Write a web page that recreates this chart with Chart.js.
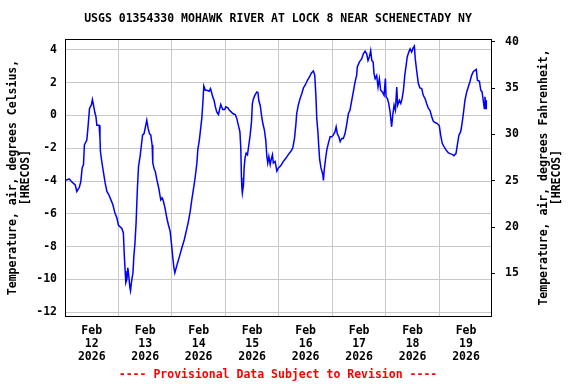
<!DOCTYPE html>
<html>
<head>
<meta charset="utf-8">
<script src="https://cdn.jsdelivr.net/npm/chart.js@4/dist/chart.umd.min.js"></script>
<style>
  html, body { margin: 0; padding: 0; background: #fff; }
</style>
</head>
<body>
<canvas id="myChart" width="576" height="384"></canvas>
<script>
// time in hours since Feb 12 2026 00:00, air temperature in deg C
const hours = [0, 1.9, 3.2, 4.6, 5.3, 6.4, 7.1, 7.7, 8.3, 8.7, 9.8, 10.4, 11.0, 11.8, 12.3, 12.8, 13.4, 13.9, 14.3, 15.3,
  15.7, 15.9, 16.6, 17.3, 18.0, 18.8, 19.7, 20.6, 21.5, 22.4, 23.3, 24.0, 25.5, 26.2, 26.6, 27.0, 27.3, 27.8, 28.2, 28.7,
  29.1, 29.4, 29.8, 30.5, 30.9, 31.4, 31.9, 32.5, 33.0, 33.7, 34.3, 34.8, 35.5, 36.1, 36.7, 37.3, 37.9, 38.5, 39.1, 39.4,
  40.1, 40.5, 41.2, 42.1, 42.7, 43.0, 43.7, 44.2, 44.9, 45.7, 46.4, 47.2, 47.9, 48.4, 48.9, 49.3, 49.9, 50.5, 51.4, 52.4,
  53.5, 54.4, 55.4, 56.2, 56.9, 57.6, 58.4, 59.2, 59.6, 60.3, 60.8, 61.4, 61.9, 62.3, 63.0, 63.7, 64.7, 65.3, 65.9, 66.3,
  66.9, 67.5, 68.1, 68.9, 69.3, 69.9, 70.8, 71.7, 72.2, 73.1, 73.8, 74.6, 75.3, 76.4, 77.1, 77.8, 78.5, 78.9, 79.2, 79.4,
  79.6, 80.1, 80.4, 80.8, 81.3, 81.9, 82.5, 83.1, 83.7, 84.1, 84.6, 85.2, 86.1, 86.6, 87.0, 87.6, 88.3, 88.8, 89.5, 90.1,
  90.6, 91.0, 91.5, 92.1, 92.5, 93.1, 93.5, 94.3, 95.1, 95.8, 96.9, 98.0, 99.2, 100.3, 101.3, 102.2, 103.0, 103.6, 104.0, 104.7,
  105.5, 106.3, 107.0, 107.9, 108.8, 109.7, 110.6, 111.5, 112.1, 112.6, 113.0, 113.5, 113.9, 114.3, 114.9, 115.7, 116.0, 116.3, 116.9, 117.5,
  118.2, 119.0, 119.7, 120.4, 121.2, 121.7, 122.2, 122.9, 123.5, 124.2, 124.9, 125.7, 126.5, 127.2, 127.9, 128.7, 129.4, 130.2, 130.9, 131.2,
  132.1, 133.2, 133.9, 134.7, 135.4, 136.0, 136.6, 137.2, 137.7, 138.3, 138.7, 139.2, 139.9, 140.5, 141.1, 141.7, 142.4, 143.2, 143.8, 144.1,
  144.7, 145.3, 145.9, 146.6, 147.1, 147.7, 148.3, 148.9, 149.3, 150.1, 150.7, 151.3, 151.9, 152.5, 153.1, 153.6, 154.3, 154.9, 155.6, 156.2,
  156.8, 157.2, 157.9, 158.6, 159.3, 160.1, 160.8, 161.6, 162.3, 163.1, 163.8, 164.6, 165.3, 166.1, 167.1, 168.0, 168.6, 169.3, 170.1, 171.0,
  172.0, 172.8, 173.8, 174.6, 175.5, 176.1, 176.8, 177.6, 178.2, 178.8, 179.5, 180.3, 181.0, 181.8, 182.5, 183.3, 184.0, 184.6, 185.1, 186.0,
  186.6, 187.2, 187.7, 188.2, 188.5, 189.0, 189.1]

const tempC = [-3.97, -3.87, -4.07, -4.24, -4.64, -4.4, -4.03, -3.2, -3.0, -1.8, -1.5, -0.59, 0.43, 0.63, 0.97, 0.63, 0.18, -0.08, -0.59, -0.59,
  -1.4, -2.2, -2.9, -3.5, -4.1, -4.64, -4.84, -5.15, -5.45, -5.96, -6.26, -6.7, -6.9, -7.17, -8.5, -9.5, -10.2, -10.0, -9.3, -9.9,
  -10.5, -10.7, -10.2, -9.6, -8.6, -7.8, -6.57, -4.44, -3.1, -2.5, -1.8, -1.2, -1.1, -0.69, -0.29, -0.79, -1.1, -1.2, -1.8, -2.9,
  -3.3, -3.4, -3.9, -4.44, -4.94, -5.15, -5.05, -5.25, -5.65, -6.26, -6.67, -7.07, -7.98, -8.7, -9.3, -9.6, -9.3, -9.0, -8.6, -8.1,
  -7.6, -7.07, -6.46, -5.85, -5.15, -4.54, -3.8, -2.9, -2.1, -1.5, -0.89, -0.18, 0.83, 1.8, 1.54, 1.54, 1.48, 1.64, 1.34, 1.14,
  0.93, 0.53, 0.22, 0.06, 0.32, 0.67, 0.36, 0.36, 0.53, 0.47, 0.32, 0.22, 0.12, 0.06, -0.18, -0.59, -0.99, -2.0, -3.8, -4.44,
  -4.74, -4.24, -3.2, -2.6, -2.3, -2.4, -1.8, -1.2, -0.39, 0.73, 1.03, 1.23, 1.44, 1.4, 0.9, 0.63, -0.08, -0.49, -0.89, -1.5,
  -2.5, -2.9, -2.5, -3.0, -2.7, -2.4, -2.9, -2.8, -3.4, -3.2, -3.06, -2.8, -2.6, -2.37, -2.2, -2.0, -1.4, -0.59, 0.12, 0.63,
  1.03, 1.34, 1.68, 1.88, 2.15, 2.35, 2.6, 2.72, 2.45, 1.23, -0.18, -0.99, -1.9, -2.7, -3.2, -3.6, -3.97, -3.4, -2.7, -2.1,
  -1.7, -1.3, -1.3, -1.2, -0.99, -0.69, -1.1, -1.3, -1.6, -1.4, -1.4, -1.1, -0.49, 0.12, 0.32, 0.93, 1.44, 2.05, 2.45, 2.96,
  3.26, 3.47, 3.77, 3.93, 3.77, 3.36, 3.57, 3.97, 3.36, 3.26, 2.55, 2.25, 2.45, 1.74, 2.25, 1.54, 1.44, 1.23, 2.25, 1.14,
  1.03, 0.73, 0.22, -0.69, 0.02, 0.63, 0.32, 1.74, 0.63, 0.93, 0.73, 1.03, 1.54, 2.45, 3.06, 3.57, 3.87, 4.07, 3.87, 4.11,
  4.24, 3.47, 2.66, 1.95, 1.68, 1.64, 1.23, 1.03, 0.73, 0.43, 0.32, -0.08, -0.35, -0.43, -0.49, -0.63, -1.2, -1.7, -1.9, -2.1,
  -2.27, -2.33, -2.37, -2.45, -2.31, -1.8, -1.2, -0.99, -0.49, 0.12, 0.93, 1.44, 1.74, 2.09, 2.45, 2.69, 2.75, 2.81, 2.15, 2.09,
  1.54, 1.44, 0.93, 0.43, 1.14, 0.43, 0.93]

const dayLabels = ['12', '13', '14', '15', '16', '17', '18', '19']
const monthLabel = 'Feb'
const yearLabel = '2026'

const chartTitle = 'USGS 01354330 MOHAWK RIVER AT LOCK 8 NEAR SCHENECTADY NY'
const footerText = '---- Provisional Data Subject to Revision ----'
const leftTitle = ['Temperature, air, degrees Celsius,', '[HRECOS]']
const rightTitle = ['Temperature, air, degrees Fahrenheit,', '[HRECOS]']

const FONT = '"DejaVu Sans Mono", monospace'
const gridColor = '#c8c8c8'

const points = hours.map((h, i) => ({ x: h, y: tempC[i] }))

// frame, title, footer and the right axis title (reads bottom to top like the left one)
const extraText = {
    id: 'extraText',
    afterDraw(chart) {
        const ctx = chart.ctx
        const { left, right, top, bottom } = chart.chartArea
        ctx.save()
        ctx.strokeStyle = '#000'
        ctx.lineWidth = 1
        ctx.strokeRect(Math.round(left) + 0.5, Math.round(top) + 0.5, Math.round(right - left), Math.round(bottom - top))

        ctx.textAlign = 'center'
        ctx.textBaseline = 'middle'
        ctx.font = 'bold 11.5px ' + FONT
        ctx.fillStyle = '#000'
        ctx.fillText(chartTitle, 278, 19)
        ctx.fillStyle = '#ff0000'
        ctx.fillText(footerText, 278, 375)

        ctx.fillStyle = '#000'
        const midY = (top + bottom) / 2
        rightTitle.forEach((line, i) => {
            ctx.save()
            ctx.translate(544 + i * 12.6, midY)
            ctx.rotate(-Math.PI / 2)
            ctx.fillText(line, 0, 0)
            ctx.restore()
        })
        ctx.restore()
    }
}

let myChart = document.getElementById('myChart').getContext('2d')

Chart.defaults.font.family = FONT
Chart.defaults.font.size = 11.5
Chart.defaults.font.weight = 'bold'
Chart.defaults.color = 'black'

let tempChart = new Chart(myChart, {
    type: 'line',
    data: {
        datasets: [{
            data: points,
            borderColor: '#0000ff',
            borderWidth: 1.5,
            pointRadius: 0,
            tension: 0,
            yAxisID: 'y'
        }]
    },
    options: {
        responsive: false,
        animation: false,
        layout: { padding: { top: 39, bottom: 20, left: 0, right: 0 } },
        plugins: {
            legend: { display: false },
            tooltip: { enabled: false }
        },
        scales: {
            x: {
                type: 'linear',
                min: 0,
                max: 191.2,
                afterFit: (s) => { s.height = 48 },
                border: { display: false },
                grid: {
                    drawTicks: false,
                    color: (c) => (c.tick && c.tick.value % 24 === 0) ? gridColor : 'rgba(0,0,0,0)'
                },
                ticks: {
                    stepSize: 12,
                    includeBounds: false,
                    autoSkip: false,
                    maxRotation: 0,
                    padding: 9,
                    font: { lineHeight: 1.1 },
                    callback: (v) => v % 24 === 12 ? [monthLabel, dayLabels[(v - 12) / 24], yearLabel] : ''
                }
            },
            y: {
                position: 'left',
                min: -12.24,
                max: 4.67,
                afterFit: (s) => { s.width = 65 },
                border: { display: false },
                grid: { drawTicks: false, color: gridColor },
                ticks: { stepSize: 2, includeBounds: false, padding: 8 },
                title: {
                    display: true,
                    text: leftTitle,
                    padding: { top: 7, bottom: 0 },
                    font: { lineHeight: 1.1 }
                }
            },
            y2: {
                position: 'right',
                min: 10.4,
                max: 40.3,
                afterFit: (s) => { s.width = 85 },
                border: { display: false },
                grid: { drawOnChartArea: false, drawTicks: true, tickLength: 4, color: '#000' },
                ticks: { stepSize: 5, includeBounds: false, padding: 10 }
            }
        }
    },
    plugins: [extraText]
})
</script>
</body>
</html>
